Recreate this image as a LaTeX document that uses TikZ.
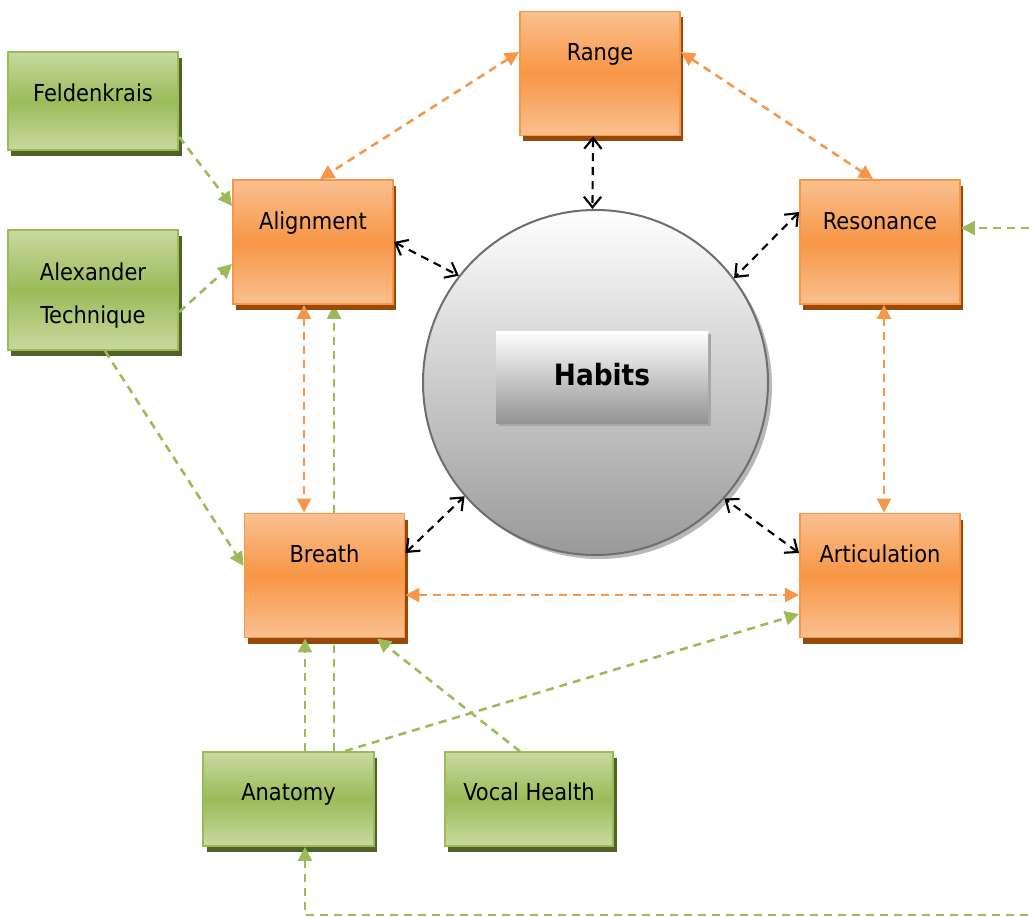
\documentclass[tikz,border=0pt]{standalone}
\usepackage{fontspec}
\setmainfont{DejaVu Sans Condensed}
\usetikzlibrary{arrows.meta,shadows,calc}
\definecolor{orB}{HTML}{F79646}
\definecolor{orL}{HTML}{FAC090}
\definecolor{orS}{HTML}{984807}
\definecolor{grB}{HTML}{9BBB59}
\definecolor{grL}{HTML}{C7DAA0}
\definecolor{grS}{HTML}{4F6228}
\definecolor{habLine}{HTML}{6E6E6E}
\pgfdeclarelayer{bg}
\pgfsetlayers{bg,main}
\begin{document}
\begin{tikzpicture}[x=0.75pt,y=-0.75pt,
  orangebox/.style={rectangle, draw=orB, line width=1.4pt,
    top color=orL, bottom color=orL, middle color=orB,
    minimum width=120pt, minimum height=93pt, inner sep=0pt,
    general shadow={fill=orS, shadow xshift=2.6pt, shadow yshift=-4.5pt},
    font=\fontsize{17.5}{20}\selectfont, text height=12pt, text depth=30.8pt},
  greenbase/.style={rectangle, draw=grB, line width=1.4pt,
    top color=grL, bottom color=grL, middle color=grB,
    minimum width=128pt, inner sep=0pt,
    general shadow={fill=grS, shadow xshift=2.6pt, shadow yshift=-4.5pt}},
  greenbox/.style={greenbase, font=\fontsize{17.5}{20}\selectfont, text height=12pt, text depth=10.5pt},
  dashline/.style={line width=1.9pt, dash pattern=on 6pt off 4.5pt},
  otip/.tip={Triangle[length=10.5pt,width=10.5pt]},
  ocon/.style={dashline, draw=orB, arrows={otip-otip}},
  gcon/.style={dashline, draw=grB, arrows={-otip}},
  gcontwo/.style={dashline, draw=grB, arrows={otip-otip}},
  btip/.tip={Straight Barb[length=8pt,width=13pt,line width=1.6pt]},
  bcon/.style={line width=1.6pt, dash pattern=on 6pt off 4.5pt, draw=black,
    arrows={btip-btip}}
]
\useasboundingbox (0,0) rectangle (1033,917);

% central habits
\node[circle, draw=habLine, line width=1.5pt, minimum size=258.75pt, inner sep=0pt,
  top color=white, bottom color=black!40,
  general shadow={fill=black!28, shadow xshift=3pt, shadow yshift=-3pt}] (habits) at (595.5,382.5) {};
\node[rectangle, minimum width=159pt, minimum height=69pt, inner sep=0pt,
  top color=white, bottom color=black!42,
  general shadow={fill=black!35, shadow xshift=2pt, shadow yshift=-2pt},
  font=\fontsize{22}{24}\selectfont\bfseries, text height=16pt, text depth=4pt] (habitsbox) at (602,377) {Habits};

% orange boxes
\node[orangebox] (Range) at (600,73.5) {Range};
\node[orangebox] (Alignment) at (313,242) {Alignment};
\node[orangebox] (Resonance) at (880,242) {Resonance};
\node[orangebox] (Breath) at (324.5,575.5) {Breath};
\node[orangebox] (Articulation) at (880,575.5) {Articulation};

% green boxes
\node[greenbox, minimum height=73.5pt] (Feldenkrais) at (93,101) {Feldenkrais};
\node[greenbase, minimum height=90pt, align=center, font=\fontsize{17.5}{32.25}\selectfont]
  (Alexander) at (93,290) {\rule{0pt}{21pt}Alexander\\Technique};
\node[greenbox, minimum height=70.5pt] (Anatomy) at (288.5,799) {Anatomy};
\node[greenbox, minimum height=70pt, minimum width=126.5pt] (VocalHealth) at (529,799) {Vocal Health};

% orange connectors
\draw[ocon] (Range.west |- 0,52) -- (320,0 |- Alignment.north);
\draw[ocon] (Range.east |- 0,52) -- (873,0 |- Resonance.north);
\draw[ocon] (304,0 |- Alignment.south) -- (304,0 |- Breath.north);
\draw[ocon] (884,0 |- Resonance.south) -- (884,0 |- Articulation.north);
\draw[ocon] (Breath.east |- 0,595) -- (Articulation.west |- 0,595);

% black connectors
\draw[bcon] (593,0 |- Range.south) -- (habits.91);
\draw[bcon] (Alignment.east) -- (habits.142);
\draw[bcon] (Resonance.west |- 0,212) -- (habits.37);
\draw[bcon] (Breath.east |- 0,553) -- (habits.221);
\draw[bcon] (Articulation.west |- 0,553) -- (habits.318);

% green connectors
\draw[gcon] (Feldenkrais.east |- 0,137) -- (Alignment.west |- 0,206);
\draw[gcon] (Alexander.east |- 0,312) -- (Alignment.west |- 0,264);
\draw[gcon] (105,0 |- Alexander.south) -- (Breath.west |- 0,566);
\draw[gcon] (305,0 |- Anatomy.north) -- (305,0 |- Breath.south);
\begin{pgfonlayer}{bg}
\draw[gcon] (334,0 |- Anatomy.north) -- (334,0 |- Alignment.south);
\end{pgfonlayer}
\draw[gcon] (345,0 |- Anatomy.north) -- (Articulation.west |- 0,614);
\draw[gcon] (520,0 |- VocalHealth.north) -- (377,0 |- Breath.south);
\coordinate (loopC) at (305,915);
\coordinate (loopA) at (1045,915);
\coordinate (loopB) at (1045,228);
\draw[gcontwo] (305,0 |- Anatomy.south) -- (loopC) -- (loopA) -- (loopB) -- (Resonance.east |- loopB);
\end{tikzpicture}
\end{document}
